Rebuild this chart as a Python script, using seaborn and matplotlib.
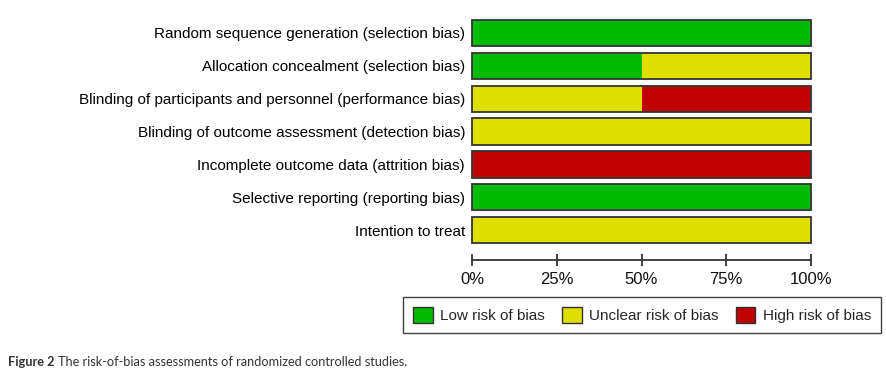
"""Risk-of-bias summary chart (stacked horizontal bars)."""

import matplotlib
matplotlib.use("Agg")
import matplotlib.pyplot as plt
from matplotlib.patches import Patch
import numpy as np
import pandas as pd
import seaborn as sns

domains = [
    "Random sequence generation (selection bias)",
    "Allocation concealment (selection bias)",
    "Blinding of participants and personnel (performance bias)",
    "Blinding of outcome assessment (detection bias)",
    "Incomplete outcome data (attrition bias)",
    "Selective reporting (reporting bias)",
    "Intention to treat",
]
low_risk = [100, 50, 0, 0, 0, 100, 0]
unclear_risk = [0, 50, 50, 100, 0, 0, 100]
high_risk = [0, 0, 50, 0, 100, 0, 0]

tick_values = [0, 25, 50, 75, 100]
tick_labels = ["0%", "25%", "50%", "75%", "100%"]
legend_labels = ["Low risk of bias", "Unclear risk of bias", "High risk of bias"]
colours = ["#00bb00", "#e0e000", "#c00000"]

sns.set_style("white")
plt.rcParams["font.family"] = ["Liberation Sans", "DejaVu Sans"]

df = pd.DataFrame({"domain": domains, "low": low_risk,
                   "unclear": unclear_risk, "high": high_risk})
df["c_low"] = df["low"]
df["c_unclear"] = df["low"] + df["unclear"]
df["c_high"] = df["c_unclear"] + df["high"]

fig = plt.figure(figsize=(8.86, 3.72), dpi=100)
ax = fig.add_axes([472 / 886, 1 - 246.5 / 372, 339 / 886, 230 / 372])

# draw widest first so the narrower cumulative segments sit on top
for col, colour in zip(["c_high", "c_unclear", "c_low"], colours[::-1]):
    sns.barplot(data=df, x=col, y="domain", orient="h", color=colour,
                width=0.8, linewidth=0, saturation=1, ax=ax)
sns.barplot(data=df, x="c_high", y="domain", orient="h", fill=False,
            color="#333333", width=0.8, linewidth=1.3, saturation=1, ax=ax)
for p in ax.patches:
    p.set_clip_on(False)

ax.set_xlim(0, 100)
ax.set_ylim(6.5, -0.5)
ax.set_xlabel("")
ax.set_ylabel("")
ax.set_xticks(tick_values, tick_labels)
ax.tick_params(axis="x", bottom=True, direction="inout", length=9, width=1.3,
               color="#333333", pad=3.5, labelsize=12, labelcolor="#111111")
ax.tick_params(axis="y", left=False, length=0, pad=5, labelsize=11,
               labelcolor="black")
for side in ["top", "right", "left"]:
    ax.spines[side].set_visible(False)
ax.spines["bottom"].set_position(("outward", 10))
ax.spines["bottom"].set_linewidth(1.3)
ax.spines["bottom"].set_color("#333333")

handles = [Patch(facecolor=c, edgecolor="#333333", linewidth=1) for c in colours]
leg = fig.legend(handles, legend_labels, ncol=3, fontsize=11,
                 loc="center", bbox_to_anchor=(642 / 886, 1 - 315 / 372),
                 frameon=True, fancybox=False, handlelength=1.3,
                 handleheight=1.3, handletextpad=0.5, columnspacing=1.1,
                 borderpad=0.65, borderaxespad=0)
leg.get_frame().set_edgecolor("#111111")
leg.get_frame().set_linewidth(1)

cap_font = ["Lato", "DejaVu Sans"]
t1 = fig.text(8 / 886, 1 - 366 / 372, "Figure 2", fontsize=9.2,
              fontweight="bold", color="#333333", family=cap_font, va="baseline")
fig.canvas.draw()
bb = t1.get_window_extent()
fig.text((bb.x1 + 4) / 886, 1 - 366 / 372,
         "The risk-of-bias assessments of randomized controlled studies.",
         fontsize=9.2, color="#333333", family=cap_font, va="baseline")

fig.savefig("out.png", dpi=100)
